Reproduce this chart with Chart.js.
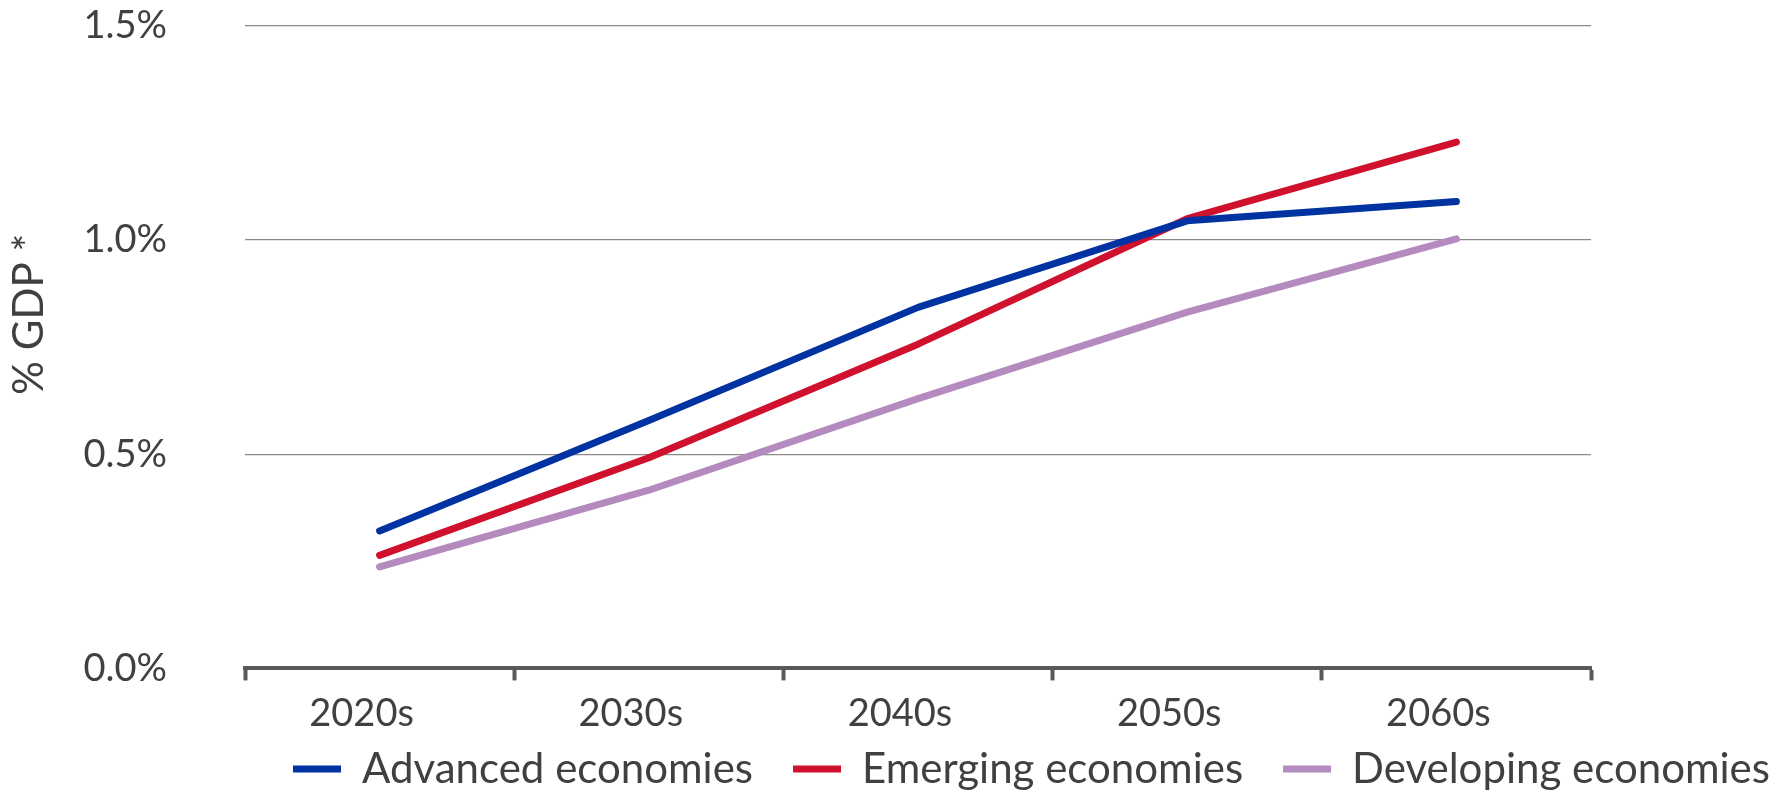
<!DOCTYPE html>
<html>
<head>
<meta charset="utf-8">
<script src="https://cdn.jsdelivr.net/npm/chart.js@4.4.1/dist/chart.umd.min.js"></script>
<style>
  html, body { margin: 0; padding: 0; background: #fff; }
  #caja { width: 1785px; height: 792px; position: relative; }
</style>
</head>
<body>
<div id="caja"><canvas id="grafica"></canvas></div>
<script>
var colorAzul = "#0033a1";
var colorRojo = "#cf112d";
var colorLila = "#b58bbf";
var colorTexto = "#404040";
var colorEje = "#595959";
var fuente = "Lato, 'Liberation Sans', sans-serif";

var decadas = ["2020s", "2030s", "2040s", "2050s", "2060s"];
var avanzadas = [0.321, 0.579, 0.843, 1.045, 1.090];
var emergentes = [0.264, 0.492, 0.757, 1.050, 1.229];
var enDesarrollo = [0.237, 0.416, 0.630, 0.832, 1.003];
var etiquetasY = ["0.0%", "0.5%", "1.0%", "1.5%"];

function serie(nombre, datos, color) {
    return {
        label: nombre,
        data: datos,
        borderColor: color,
        backgroundColor: color,
        borderWidth: 7,
        borderCapStyle: "round",
        borderJoinStyle: "round",
        pointRadius: 0,
        tension: 0,
        fill: false
    };
}

// la leyenda va corrida a la derecha, y el titulo del eje y un poco arriba
var ajustes = {
    id: "ajustes",
    afterLayout: function (chart) {
        var lg = chart.legend;
        var dx = 253, dy = -40;
        lg.left += dx; lg.right += dx;
        lg.top += dy; lg.bottom += dy;

        var ejeY = chart.scales.y;
        if (!ejeY._tituloMovido) {
            var original = ejeY.drawTitle;
            ejeY.drawTitle = function () {
                this.ctx.save();
                this.ctx.translate(0, -33);
                original.apply(this, arguments);
                this.ctx.restore();
            };
            ejeY._tituloMovido = true;
        }
    }
};

var configuracion = {
    type: "line",
    data: {
        labels: decadas,
        datasets: [
            serie("Advanced economies", avanzadas, colorAzul),
            serie("Emerging economies", emergentes, colorRojo),
            serie("Developing economies", enDesarrollo, colorLila)
        ]
    },
    options: {
        responsive: true,
        maintainAspectRatio: false,
        animation: false,
        layout: { padding: { top: 26, right: 194, bottom: -48, left: 0 } },
        plugins: {
            tooltip: { enabled: false },
            legend: {
                position: "bottom",
                align: "start",
                labels: {
                    usePointStyle: true,
                    pointStyle: "line",
                    pointStyleWidth: 48,
                    padding: 40,
                    color: colorTexto,
                    font: { family: fuente, size: 42 }
                }
            }
        },
        scales: {
            x: {
                offset: true,
                grid: {
                    display: true,
                    offset: true,
                    drawOnChartArea: false,
                    drawTicks: true,
                    tickLength: 12,
                    tickWidth: 4,
                    tickColor: colorEje
                },
                border: { display: true, color: colorEje, width: 4 },
                ticks: {
                    color: colorTexto,
                    font: { family: fuente, size: 38 },
                    padding: 11,
                    labelOffset: -18,
                    maxRotation: 0
                }
            },
            y: {
                min: 0,
                max: 1.5,
                grid: {
                    color: "#8a8a8a",
                    lineWidth: 1.3,
                    drawTicks: true,
                    tickLength: 78,
                    tickColor: "rgba(0,0,0,0)"
                },
                border: { display: false },
                ticks: {
                    stepSize: 0.5,
                    padding: 0,
                    color: colorTexto,
                    font: { family: fuente, size: 38 },
                    callback: function (v, i) { return etiquetasY[i]; }
                },
                title: {
                    display: true,
                    text: "% GDP *",
                    color: colorTexto,
                    font: { family: fuente, size: 42 },
                    padding: { top: 4, bottom: 0 }
                },
                afterFit: function (s) { s.width = 245; }
            }
        }
    },
    plugins: [ajustes]
};

var grafica = new Chart(document.getElementById("grafica"), configuracion);
</script>
</body>
</html>
